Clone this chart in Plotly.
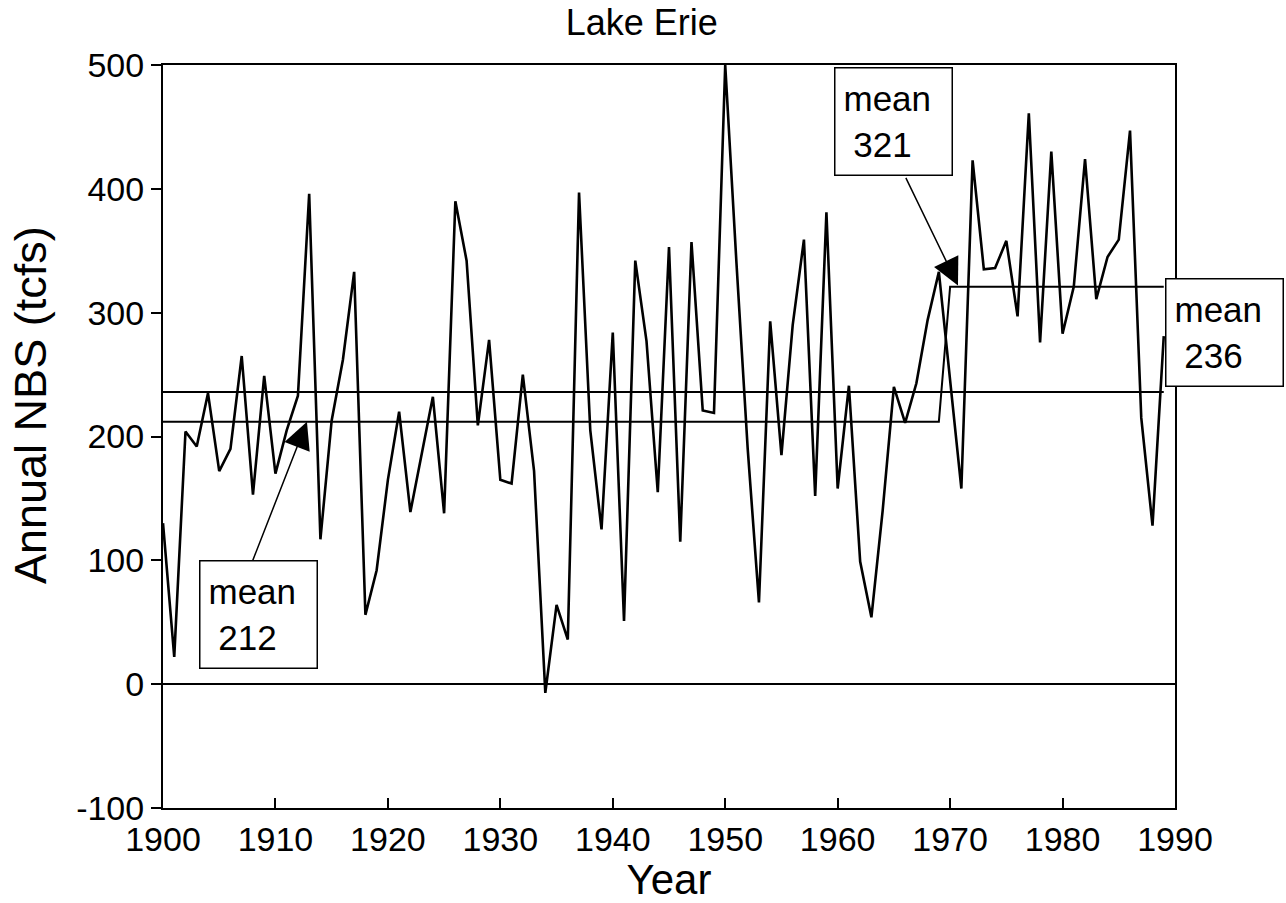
import plotly.graph_objects as go

# ---- data ----
years = list(range(1900, 1990))
nbs = [130, 22, 204, 192, 235, 172, 190, 265, 153, 249,
       170, 205, 233, 396, 117, 213, 262, 333, 56, 92,
       165, 220, 139, 185, 232, 138, 390, 342, 209, 278,
       165, 162, 250, 172, -7, 64, 36, 397, 205, 125,
       284, 51, 342, 277, 155, 353, 115, 357, 221, 219,
       500, 340, 190, 66, 293, 185, 290, 359, 152, 381,
       158, 241, 99, 54, 140, 240, 211, 243, 294, 333,
       245, 158, 423, 335, 336, 358, 297, 461, 276, 430,
       283, 321, 424, 311, 345, 359, 447, 215, 128, 281]
mean_all = 236
mean_before = 212
mean_after = 321
break_year = 1970

x_ticks = [1900, 1910, 1920, 1930, 1940, 1950, 1960, 1970, 1980, 1990]
y_ticks = [-100, 0, 100, 200, 300, 400, 500]
y_tick_text = ["-100", "0", "100", "200", "300", "400", "500"]

mean_all_series = [mean_all for _ in years]
mean_split_series = [mean_before if y < break_year else mean_after for y in years]

FONT = "Liberation Sans, Arial, Helvetica, sans-serif"
FS = 34
FS_AX = 42
FS_YT = 45
FS_ANN = 35

W, H = 1286, 903
ML, MR, MT, MB = 163, 111, 65, 95
PW, PH = W - ML - MR, H - MT - MB


def px_to_paper(px, py):
    return (px - ML) / PW, (H - MB - py) / PH


fig = go.Figure()
fig.add_trace(go.Scatter(x=years, y=mean_all_series, mode="lines",
                         line=dict(color="black", width=2), hoverinfo="skip"))
fig.add_trace(go.Scatter(x=years, y=mean_split_series, mode="lines",
                         line=dict(color="black", width=2), hoverinfo="skip"))
fig.add_trace(go.Scatter(x=years, y=nbs, mode="lines",
                         line=dict(color="black", width=2.6)))

ann_font = dict(family=FONT, size=FS_ANN, color="black")
NB = "\u00a0"
box_style = dict(showarrow=False, font=ann_font, align="left", bgcolor="white",
                 bordercolor="black", borderwidth=1.5, borderpad=8, width=100, height=90,
                 xanchor="center", yanchor="middle")
arrow_style = dict(text="", showarrow=True, arrowhead=2, arrowsize=3.6,
                   arrowwidth=1.5, arrowcolor="black", standoff=0,
                   xref="x", yref="y", axref="x", ayref="y")

bx236, by236 = px_to_paper(1224, 332)
ytx, yty = px_to_paper(30, 405)

annotations = [
    dict(x=1912.8, y=mean_before, ax=1907.9, ay=98, **arrow_style),
    dict(x=1908.45, y=56, xref="x", yref="y",
         text="mean<br>" + NB + str(mean_before), **box_style),
    dict(x=1970.7, y=mean_after + 1, ax=1966.0, ay=410, **arrow_style),
    dict(x=1965.0, y=454, xref="x", yref="y",
         text="mean<br>" + NB + str(mean_after), **box_style),
    dict(x=bx236, y=by236, xref="paper", yref="paper",
         text="mean<br>" + NB + str(mean_all), **box_style),
    dict(x=ytx, y=yty, xref="paper", yref="paper", text="Annual NBS (tcfs)",
         showarrow=False, textangle=-90, xanchor="center", yanchor="middle",
         font=dict(family=FONT, size=FS_YT, color="black")),
]

fig.update_layout(
    width=W, height=H,
    margin=dict(l=ML, r=MR, t=MT, b=MB),
    paper_bgcolor="white", plot_bgcolor="white",
    showlegend=False,
    font=dict(family=FONT, size=FS, color="black"),
    title=dict(text="Lake Erie", x=0.499, xanchor="center", y=1 - 22 / H,
               yanchor="middle", font=dict(family=FONT, size=36, color="black")),
    annotations=annotations,
)

fig.update_xaxes(range=[1900, 1990], tickvals=x_ticks, ticks="inside", ticklen=10,
                 tickwidth=1.5, tickcolor="black", showline=True, linecolor="black",
                 linewidth=2, mirror=True, showgrid=False, zeroline=False,
                 title=dict(text="Year", font=dict(family=FONT, size=FS_AX), standoff=2),
                 tickfont=dict(family=FONT, size=FS))
fig.update_yaxes(range=[-100, 500], tickvals=y_ticks, ticktext=y_tick_text,
                 ticks="outside", ticklen=10, tickwidth=1.5, tickcolor="black",
                 showline=True, linecolor="black", linewidth=2, mirror=True,
                 showgrid=False, zeroline=True, zerolinecolor="black", zerolinewidth=1.5,
                 tickfont=dict(family=FONT, size=FS))

fig.write_html("out.html")
